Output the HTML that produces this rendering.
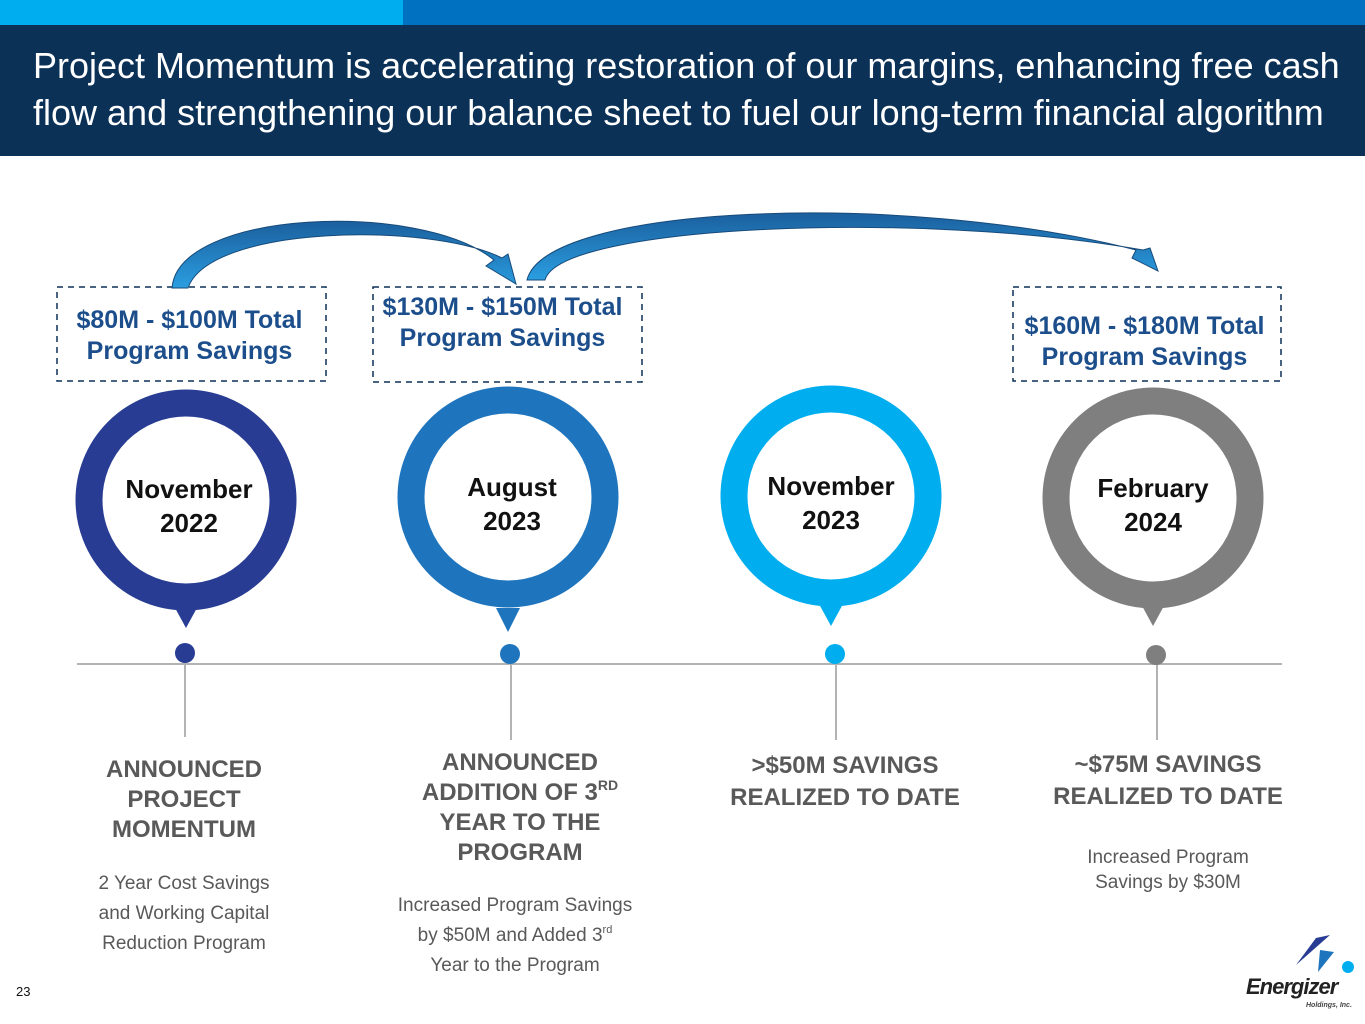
<!DOCTYPE html>
<html><head><style>
body{margin:0;width:1365px;height:1024px;overflow:hidden;background:#fff;font-family:"Liberation Sans",Arial,sans-serif;position:relative}
.t{position:absolute;text-align:center;font-weight:bold}
sup{line-height:0;vertical-align:0;position:relative;top:-0.7em}
</style></head><body>
<div style="position:absolute;left:0;top:0;width:403px;height:25px;background:#00AEEF"></div>
<div style="position:absolute;left:403px;top:0;width:962px;height:25px;background:#0070C0"></div>
<div style="position:absolute;left:0;top:25px;width:1365px;height:131px;background:#0B3157"></div>
<div style="position:absolute;left:33px;top:42px;color:#fff;font-size:36px;line-height:47px;white-space:nowrap">Project Momentum is accelerating restoration of our margins, enhancing free cash<br>flow and strengthening our balance sheet to fuel our long-term financial algorithm</div>
<svg width="1365" height="1024" style="position:absolute;left:0;top:0">
<defs><linearGradient id="g" x1="0" y1="0" x2="0" y2="1"><stop offset="0" stop-color="#1b5f9e"/><stop offset="1" stop-color="#2a9ee0"/></linearGradient></defs>
<g fill="none" stroke="#0B3157" stroke-width="1.5" stroke-dasharray="6,5">
<rect x="57" y="287" width="269" height="94"/><rect x="373" y="287" width="269" height="95"/><rect x="1013" y="287" width="268" height="94"/></g>
<path d="M172,288 C178,210 420,200 494,260 L486,266 L516,284 L508,254 L502,258 C430,222 210,225 188,288 Z" fill="url(#g)" stroke="#174a7a" stroke-width="1"/>
<path d="M527,280 C545,205 900,190 1136,250 L1132,258 L1158,271 L1150,248 L1143,250 C920,210 560,225 545,280 Z" fill="url(#g)" stroke="#174a7a" stroke-width="1"/>
<line x1="77" y1="664" x2="1282" y2="664" stroke="#b3b3b3" stroke-width="2"/>
<g stroke="#b3b3b3" stroke-width="2"><line x1="185" y1="655" x2="185" y2="737"/><line x1="511" y1="655" x2="511" y2="740"/><line x1="836" y1="655" x2="836" y2="740"/><line x1="1157" y1="655" x2="1157" y2="740"/></g>
<circle cx="186" cy="500" r="97" fill="none" stroke="#283C93" stroke-width="27"/>
<polygon points="174,606 198,606 186,628" fill="#283C93"/><circle cx="185" cy="653" r="10" fill="#283C93"/>
<circle cx="508" cy="497" r="97" fill="none" stroke="#1F75BD" stroke-width="27"/>
<polygon points="496,608 520,608 508,632" fill="#1F75BD"/><circle cx="510" cy="654" r="10" fill="#1F75BD"/>
<circle cx="831" cy="496" r="97" fill="none" stroke="#00AEEF" stroke-width="27"/>
<polygon points="819,604 843,604 831,626" fill="#00AEEF"/><circle cx="835" cy="654" r="10" fill="#00AEEF"/>
<circle cx="1153" cy="498" r="97" fill="none" stroke="#7F7F80" stroke-width="27"/>
<polygon points="1141,604 1165,604 1153,626" fill="#7F7F80"/><circle cx="1156" cy="655" r="10" fill="#7F7F80"/>
<polygon points="1330,935 1316,938 1296,965" fill="#283C93"/>
<polygon points="1320,950 1334,952 1318,972" fill="#1F75BD"/>
<circle cx="1348" cy="967" r="6" fill="#00AEEF"/>
</svg>
<div class="t" style="left:55px;top:305px;width:269px;color:#1C4E8C;font-size:25px;line-height:31px">$80M - $100M Total<br>Program Savings</div>
<div class="t" style="left:368px;top:292px;width:269px;color:#1C4E8C;font-size:25px;line-height:31px">$130M - $150M Total<br>Program Savings</div>
<div class="t" style="left:1010px;top:311px;width:269px;color:#1C4E8C;font-size:25px;line-height:31px">$160M - $180M Total<br>Program Savings</div>
<div class="t" style="left:89px;top:472px;width:200px;font-size:26px;line-height:34px;color:#111">November<br>2022</div>
<div class="t" style="left:412px;top:470px;width:200px;font-size:26px;line-height:34px;color:#111">August<br>2023</div>
<div class="t" style="left:731px;top:469px;width:200px;font-size:26px;line-height:34px;color:#111">November<br>2023</div>
<div class="t" style="left:1053px;top:471px;width:200px;font-size:26px;line-height:34px;color:#111">February<br>2024</div>
<div class="t" style="left:64px;top:755px;width:240px;font-size:24px;line-height:30px;color:#595959">ANNOUNCED<br>PROJECT<br>MOMENTUM</div>
<div class="t" style="left:380px;top:748px;width:280px;font-size:24px;line-height:30px;color:#595959">ANNOUNCED<br>ADDITION OF 3<sup style="font-size:14px">RD</sup><br>YEAR TO THE<br>PROGRAM</div>
<div class="t" style="left:700px;top:750px;width:290px;font-size:24px;line-height:32px;color:#595959">&gt;$50M SAVINGS<br>REALIZED TO DATE</div>
<div class="t" style="left:1023px;top:749px;width:290px;font-size:24px;line-height:32px;color:#595959">~$75M SAVINGS<br>REALIZED TO DATE</div>
<div class="t" style="left:64px;top:869px;width:240px;font-size:19px;line-height:30px;color:#595959;font-weight:normal">2 Year Cost Savings<br>and Working Capital<br>Reduction Program</div>
<div class="t" style="left:370px;top:891px;width:290px;font-size:19px;line-height:30px;color:#595959;font-weight:normal">Increased Program Savings<br>by $50M and Added 3<sup style="font-size:11px">rd</sup><br>Year to the Program</div>
<div class="t" style="left:1048px;top:845px;width:240px;font-size:19px;line-height:25px;color:#595959;font-weight:normal">Increased Program<br>Savings by $30M</div>
<div style="position:absolute;left:16px;top:984px;font-size:13px;color:#111">23</div>
<div style="position:absolute;left:1246px;top:974px;font-size:22px;font-weight:bold;font-style:italic;color:#222;letter-spacing:-1px">Energizer</div>
<div style="position:absolute;left:1306px;top:1002px;font-size:7px;font-style:italic;font-weight:bold;color:#444">Holdings, Inc.</div>
</body></html>
